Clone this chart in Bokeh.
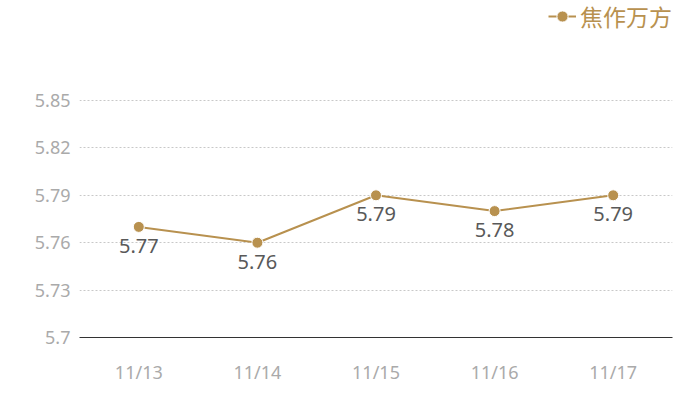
from bokeh.plotting import figure
from bokeh.models import ColumnDataSource, Legend, LegendItem, Range1d, FixedTicker
from bokeh.core.properties import value
from bokeh.embed import file_html
from bokeh.resources import INLINE

dates = ["11/13", "11/14", "11/15", "11/16", "11/17"]
prices = [5.77, 5.76, 5.79, 5.78, 5.79]
series_name = "焦作万方"
y_ticks = [5.7, 5.73, 5.76, 5.79, 5.82, 5.85]

GOLD = "#B8914F"
FONT = "Noto Sans, Noto Sans CJK SC"

W, H = 700, 400
BL, BR, BT, BB = 79, 28, 0, 63
frame_h = H - BT - BB
y_top = 5.7 + 0.15 * (frame_h - 0) / (frame_h - 100)

src = ColumnDataSource(dict(x=dates, y=prices, lbl=[f"{v:.2f}" for v in prices]))

p = figure(width=W, height=H, x_range=dates, y_range=Range1d(5.7, y_top),
           output_backend="svg", toolbar_location=None,
           min_border_left=BL, min_border_right=BR, min_border_top=BT, min_border_bottom=BB)
p.outline_line_color = None
p.background_fill_color = "white"

p.xgrid.grid_line_color = None
p.ygrid.grid_line_color = "#c8c8c8"
p.ygrid.grid_line_dash = "2 2"
p.ygrid.grid_line_width = 1

p.yaxis.ticker = FixedTicker(ticks=y_ticks)
p.yaxis.axis_line_color = None
p.yaxis.major_tick_line_color = None
p.yaxis.minor_tick_line_color = None
p.yaxis.major_tick_out = 0
p.yaxis.major_label_standoff = 9
p.yaxis.major_label_text_color = "#aaaaaa"
p.yaxis.major_label_text_font_size = "18px"
p.yaxis.major_label_text_font = FONT
p.yaxis.major_label_overrides = {5.7: "5.7", 5.73: "5.73", 5.76: "5.76", 5.79: "5.79", 5.82: "5.82", 5.85: "5.85"}

p.xaxis.axis_line_color = "#333333"
p.xaxis.axis_line_width = 1
p.xaxis.major_tick_line_color = None
p.xaxis.minor_tick_line_color = None
p.xaxis.major_tick_out = 0
p.xaxis.major_label_standoff = 22
p.xaxis.major_label_text_color = "#aaaaaa"
p.xaxis.major_label_text_font_size = "18px"
p.xaxis.major_label_text_font = FONT

ln = p.line("x", "y", source=src, line_color=GOLD, line_width=2)
sc = p.scatter("x", "y", source=src, size=11, fill_color=GOLD, line_color="white", line_width=1)

p.text("x", "y", text="lbl", source=src, text_align="center", text_baseline="top",
       y_offset=12, text_font_size="20px", text_color="#595959", text_font=value(FONT))

legend = Legend(items=[LegendItem(label=series_name, renderers=[ln, sc])],
                location=(469, frame_h - 33), orientation="horizontal",
                label_text_font_size="23px", label_text_color=GOLD, label_text_font=FONT,
                label_text_baseline="middle",
                glyph_width=28, glyph_height=30, label_height=30, label_standoff=4,
                padding=0, margin=0, spacing=0,
                border_line_color=None, background_fill_alpha=0)
p.add_layout(legend, "center")

open("out.html", "w").write(file_html(p, INLINE))
